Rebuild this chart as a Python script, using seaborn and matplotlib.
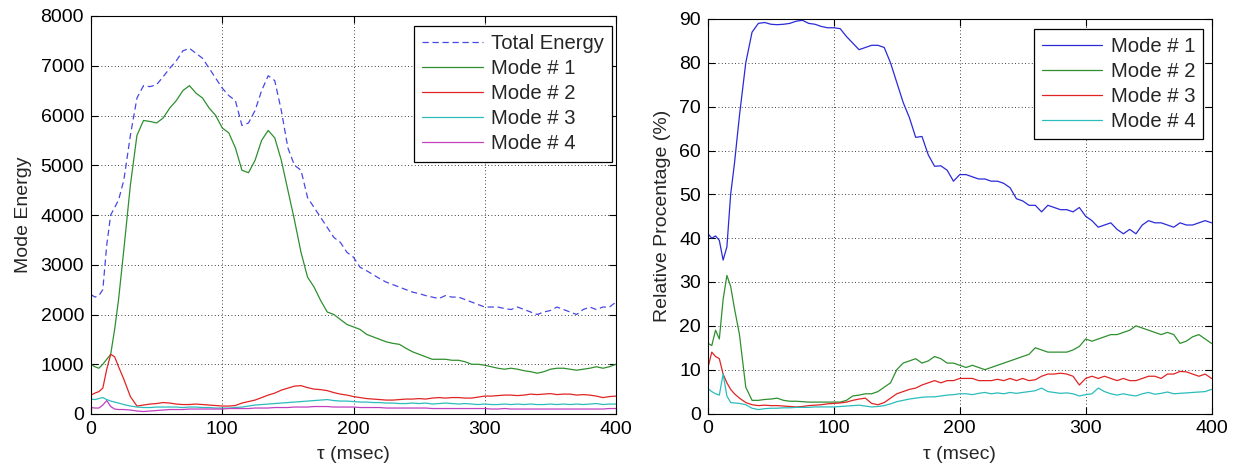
import numpy as np
import pandas as pd
import matplotlib
matplotlib.use("Agg")
import matplotlib.pyplot as plt
import seaborn as sns

# ---------------- data ----------------
t = [0, 3, 6, 9, 12, 15, 18, 21, 25] + list(range(30, 401, 5))

total_energy = [2400, 2350, 2380, 2500, 3400, 4000, 4150, 4300, 4700,
                5600, 6350, 6600, 6580, 6620, 6780, 6950, 7100, 7300, 7350,
                7250, 7150, 6950, 6750, 6550, 6400, 6300, 5800, 5850, 6100,
                6500, 6800, 6700, 6100, 5350, 5000, 4900, 4350, 4150, 3950,
                3750, 3550, 3450, 3250, 3150, 2950, 2880, 2800, 2720, 2650,
                2600, 2550, 2500, 2450, 2420, 2380, 2350, 2320, 2380, 2350,
                2350, 2300, 2250, 2200, 2150, 2150, 2150, 2120, 2100, 2150,
                2100, 2050, 2000, 2050, 2080, 2150, 2100, 2050, 2000, 2100,
                2150, 2100, 2150, 2150, 2250]

energy_mode1 = [1000, 950, 920, 1000, 1100, 1200, 1700, 2300, 3300,
                4600, 5600, 5900, 5880, 5850, 5950, 6150, 6300, 6500, 6600,
                6450, 6350, 6150, 6000, 5750, 5650, 5350, 4900, 4850, 5100,
                5500, 5700, 5550, 5100, 4500, 3900, 3250, 2750, 2550, 2280,
                2050, 2000, 1900, 1800, 1750, 1700, 1600, 1550, 1500, 1450,
                1420, 1400, 1320, 1250, 1200, 1150, 1100, 1100, 1100, 1080,
                1080, 1050, 1000, 1000, 980, 950, 920, 900, 920, 900,
                870, 850, 820, 850, 900, 920, 920, 900, 880, 900,
                920, 950, 920, 950, 1000]

energy_mode2 = [380, 420, 450, 520, 900, 1200, 1150, 950, 700,
                350, 160, 180, 200, 210, 230, 220, 200, 190, 190,
                200, 190, 180, 170, 160, 160, 170, 220, 250, 280,
                330, 380, 420, 480, 520, 560, 570, 530, 500, 490,
                470, 430, 400, 380, 350, 330, 310, 300, 290, 280,
                280, 290, 300, 300, 310, 300, 320, 330, 320, 330,
                330, 320, 320, 340, 360, 360, 370, 380, 380, 370,
                380, 400, 390, 400, 410, 390, 400, 400, 380, 390,
                380, 360, 330, 350, 360]

energy_mode3 = [300, 290, 310, 330, 290, 260, 240, 220, 190,
                160, 140, 130, 130, 140, 140, 140, 140, 130, 140,
                140, 130, 130, 120, 120, 120, 130, 140, 160, 180,
                190, 200, 210, 220, 230, 240, 250, 260, 270, 280,
                290, 270, 260, 260, 250, 240, 240, 230, 230, 220,
                220, 210, 210, 220, 210, 220, 200, 210, 220, 210,
                200, 210, 200, 190, 200, 190, 190, 200, 190, 200,
                190, 200, 190, 190, 200, 190, 200, 190, 200, 190,
                200, 210, 190, 200, 200]

energy_mode4 = [130, 120, 120, 180, 270, 150, 100, 90, 90,
                80, 60, 50, 60, 70, 80, 90, 90, 90, 100,
                100, 100, 100, 100, 100, 110, 110, 110, 110, 120,
                120, 120, 130, 130, 130, 140, 140, 140, 150, 150,
                150, 140, 140, 140, 140, 130, 130, 130, 130, 120,
                120, 120, 120, 120, 120, 120, 110, 110, 110, 110,
                110, 110, 110, 110, 110, 100, 100, 110, 100, 100,
                100, 100, 100, 100, 100, 100, 100, 100, 100, 100,
                100, 100, 100, 110, 110]

pct_mode1 = [41, 40, 40.5, 39.5, 35, 38, 50, 57, 68,
             80, 87, 89, 89.2, 88.8, 88.7, 88.8, 89, 89.5, 89.7,
             89, 88.8, 88.3, 88, 88, 87.8, 86, 84.5, 83, 83.5,
             84, 84, 83.5, 80, 75.5, 71, 67.5, 63, 63.2, 59,
             56.4, 56.5, 55.5, 53, 54.5, 54.5, 54, 53.5, 53.5, 53,
             53, 52.5, 51.5, 49, 48.5, 47.5, 47.5, 46, 47.5, 47,
             46.5, 46.5, 46, 47, 45, 44, 42.5, 43, 43.5, 42,
             41, 42, 41, 43, 44, 43.5, 43.5, 43, 42.5, 43.5,
             43, 43, 43.5, 44, 43.5]

pct_mode2 = [16, 15.5, 19, 17, 26, 31.5, 29, 24, 18,
             6, 3, 3, 3.2, 3.3, 3.5, 3, 2.8, 2.8, 2.7,
             2.6, 2.6, 2.6, 2.6, 2.6, 2.6, 3, 4, 4.2, 4.5,
             4.5, 5, 6, 7, 10, 11.5, 12, 12.5, 11.5, 12,
             13, 12.5, 11.5, 11.5, 11, 10.5, 11, 10.5, 10, 10.5,
             11, 11.5, 12, 12.5, 13, 13.5, 15, 14.5, 14, 14,
             14, 14, 14.5, 15.3, 17, 16.5, 17, 17.5, 18, 18,
             18.5, 19, 20, 19.5, 19, 18.5, 18, 18.5, 18, 16,
             16.5, 17.5, 18, 17, 16]

pct_mode3 = [10.5, 14, 13, 12.5, 9, 7, 5.5, 4.5, 3.5,
             2.5, 2, 1.8, 1.9, 1.8, 1.8, 1.7, 1.6, 1.5, 1.6,
             1.8, 1.9, 2, 2.2, 2.3, 2.4, 2.6, 3, 3.3, 3.5,
             2.3, 2, 2.5, 3.5, 4.5, 5, 5.5, 5.8, 6.5, 7,
             7.5, 7, 7.5, 7.5, 8, 8, 8, 7.5, 7.5, 7.5,
             7.8, 7.5, 8, 7.5, 8, 7.5, 7.7, 8.5, 9, 9,
             9.2, 9, 8.5, 6.5, 8, 8.5, 8, 8.5, 8, 7.5,
             8, 7.5, 7.5, 8, 8.5, 8.5, 8, 9, 9, 9.6,
             9.5, 9, 8.5, 9, 8]

pct_mode4 = [5.7, 5, 4.5, 4.2, 9, 4, 2.5, 2.4, 2.3,
             2, 1.2, 0.9, 1.1, 1.2, 1.2, 1.3, 1.3, 1.4, 1.4,
             1.4, 1.5, 1.5, 1.5, 1.5, 1.6, 1.7, 1.8, 1.9, 1.7,
             1.5, 1.6, 1.8, 2.2, 2.7, 3, 3.3, 3.5, 3.7, 3.8,
             3.8, 4, 4.2, 4.3, 4.5, 4.5, 4.3, 4.6, 4.8, 4.5,
             4.7, 4.5, 4.8, 4.6, 4.8, 5, 5.2, 5.8, 5, 4.8,
             4.6, 4.7, 4.5, 4, 4.3, 4.5, 5.8, 5, 4.5, 4.2,
             4.5, 4.2, 4, 4.5, 4.8, 4.4, 4.6, 4.9, 4.5, 4.6,
             4.7, 4.8, 4.9, 5, 5.5]

left_labels = ["Total Energy", "Mode # 1", "Mode # 2", "Mode # 3", "Mode # 4"]
right_labels = ["Mode # 1", "Mode # 2", "Mode # 3", "Mode # 4"]
x_ticks = [0, 100, 200, 300, 400]
left_yticks = [0, 1000, 2000, 3000, 4000, 5000, 6000, 7000, 8000]
right_yticks = [0, 10, 20, 30, 40, 50, 60, 70, 80, 90]

# ---------------- style ----------------
sns.set_style("white")
plt.rcParams['font.family'] = ['Liberation Sans', 'DejaVu Sans']

FS = 14
LFS = 14.6
C_BLUE = "#2a2ad8"
C_GREEN = "#2f8f2f"
C_RED = "#e02424"
C_CYAN = "#2cbcbc"
C_MAG = "#c040c0"

fig = plt.figure(figsize=(12.35, 4.70), dpi=100)
axL = fig.add_axes([91 / 1235, (470 - 414) / 470, (616 - 91) / 1235, (414 - 16) / 470])
axR = fig.add_axes([708 / 1235, (470 - 413.5) / 470, (1211.5 - 708) / 1235, (413.5 - 19) / 470])

lw = 0.9
left_series = [total_energy, energy_mode1, energy_mode2, energy_mode3, energy_mode4]
left_colors = ["#4848e4", C_GREEN, C_RED, C_CYAN, C_MAG]
for i, (ys, c, lab) in enumerate(zip(left_series, left_colors, left_labels)):
    line_ax = sns.lineplot(x=t, y=ys, ax=axL, color=c, linewidth=lw, label=lab)
    if i == 0:
        line_ax.lines[-1].set_dashes([5, 3])

right_series = [pct_mode1, pct_mode2, pct_mode3, pct_mode4]
right_colors = [C_BLUE, C_GREEN, C_RED, C_CYAN]
for ys, c, lab in zip(right_series, right_colors, right_labels):
    sns.lineplot(x=t, y=ys, ax=axR, color=c, linewidth=lw, label=lab)

for ax, yt, ylab, anchor in [(axL, left_yticks, "Mode Energy", (0.9924, 0.975)),
                             (axR, right_yticks, "Relative Procentage (%)", (0.9837, 0.9747))]:
    ax.set_xlim(0, 400)
    ax.set_ylim(yt[0], yt[-1])
    ax.set_xticks(x_ticks)
    ax.set_yticks(yt)
    ax.grid(True, color="black", linestyle=(0, (1, 3)), linewidth=0.6)
    ax.tick_params(direction="in", length=5, width=0.8, labelsize=FS,
                   top=True, right=True, bottom=True, left=True, pad=5, colors="black")
    for s in ax.spines.values():
        s.set_visible(True)
        s.set_color("black")
        s.set_linewidth(0.8)
    ax.set_xlabel("τ (msec)", fontsize=FS, labelpad=6)
    ax.set_ylabel(ylab, fontsize=FS, labelpad=6)
    leg = ax.legend(loc="upper right", bbox_to_anchor=anchor, fontsize=LFS, frameon=True,
                    fancybox=False, framealpha=1, edgecolor="black", handlelength=3.0,
                    handletextpad=0.4, labelspacing=0.3, borderpad=0.4,
                    borderaxespad=0.0)
    leg.get_frame().set_linewidth(0.9)
    if ax is axL:
        leg.get_lines()[0].set_dashes([5, 3])

fig.savefig("out.png", dpi=100)
